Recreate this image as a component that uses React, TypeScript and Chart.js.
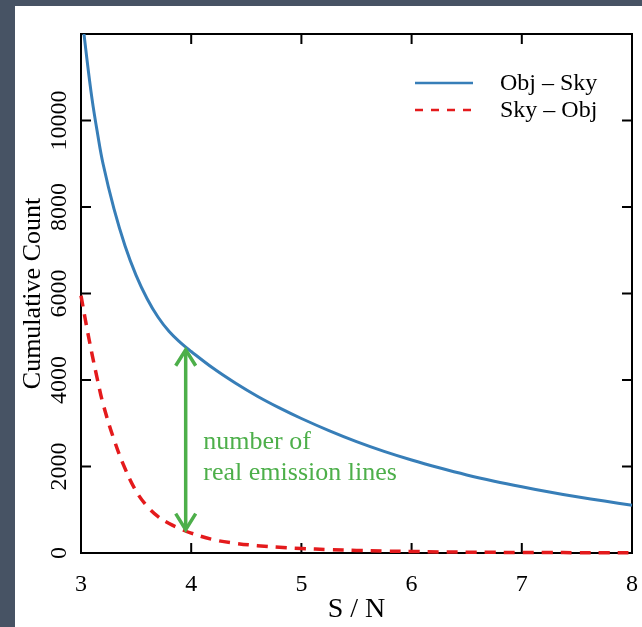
import { useEffect, useRef } from "react";
import { Chart, registerables } from "chart.js";

Chart.register(...registerables);

// Signal-to-noise thresholds and the cumulative counts above each one
const SN = [3.0, 3.05, 3.1, 3.15, 3.2, 3.3, 3.4, 3.5, 3.6, 3.7, 3.8, 3.9, 4.0, 4.2, 4.4, 4.6, 4.8, 5.0, 5.25, 5.5, 5.75, 6.0, 6.25, 6.5, 6.75, 7.0, 7.25, 7.5, 7.75, 8.0];
const OBJ_MINUS_SKY = [12600, 11500, 10500, 9700, 9000, 7950, 7100, 6420, 5880, 5450, 5120, 4870, 4660, 4270, 3930, 3625, 3355, 3110, 2830, 2575, 2350, 2150, 1970, 1805, 1660, 1530, 1410, 1300, 1200, 1105];
const SKY_MINUS_OBJ = [5950, 5250, 4600, 4000, 3450, 2620, 1950, 1430, 1080, 840, 680, 560, 460, 310, 225, 170, 132, 105, 80, 60, 45, 35, 25, 20, 15, 12, 10, 8, 6, 5];

const SERIES_LABELS = ["Obj \u2013 Sky", "Sky \u2013 Obj"];
const X_TICKS = [3, 4, 5, 6, 7, 8];
const Y_TICKS = [0, 2000, 4000, 6000, 8000, 10000];
const X_MIN = 3;
const X_MAX = 8;
const Y_MAX = 12000;

// Double-headed arrow marking the gap between the two curves
const ARROW_SN = 3.95;
const ARROW_TOP = 4700;
const ARROW_BOTTOM = 540;
const NOTE_LINES = ["number of", "real emission lines"];
const NOTE_SN = 4.11;
const NOTE_BASELINE = 2400;

const BLUE = "#377eb8";
const RED = "#e41a1c";
const GREEN = "#4daf4a";
const SERIF = "'Liberation Serif', 'Times New Roman', serif";

const framePlugin = {
  id: "frameTicks",
  beforeDatasetsDraw(chart: any) {
    const { ctx, chartArea: a, scales } = chart;
    const len = 10;
    ctx.save();
    ctx.strokeStyle = "#000";
    ctx.lineWidth = 2;
    ctx.strokeRect(a.left, a.top, a.right - a.left, a.bottom - a.top);
    ctx.beginPath();
    const xs = scales.x;
    for (const t of xs.ticks) {
      if (t.value <= xs.min || t.value >= xs.max) continue;
      const px = xs.getPixelForValue(t.value);
      ctx.moveTo(px, a.bottom);
      ctx.lineTo(px, a.bottom - len);
      ctx.moveTo(px, a.top);
      ctx.lineTo(px, a.top + len);
    }
    const ys = scales.y;
    for (const t of ys.ticks) {
      if (t.value <= ys.min || t.value >= ys.max) continue;
      const py = ys.getPixelForValue(t.value);
      ctx.moveTo(a.left, py);
      ctx.lineTo(a.left + len, py);
      ctx.moveTo(a.right, py);
      ctx.lineTo(a.right - len, py);
    }
    ctx.stroke();
    ctx.restore();
  },
};

const notePlugin = {
  id: "gapNote",
  afterDatasetsDraw(chart: any) {
    const { ctx, scales } = chart;
    const x = scales.x.getPixelForValue(ARROW_SN);
    const yTop = scales.y.getPixelForValue(ARROW_TOP);
    const yBot = scales.y.getPixelForValue(ARROW_BOTTOM);
    const hw = 10;
    const hl = 16;
    ctx.save();
    ctx.strokeStyle = GREEN;
    ctx.lineWidth = 3.5;
    ctx.lineCap = "butt";
    ctx.lineJoin = "miter";
    ctx.beginPath();
    ctx.moveTo(x, yTop + 1);
    ctx.lineTo(x, yBot - 1);
    ctx.stroke();
    ctx.beginPath();
    ctx.moveTo(x - hw, yTop + hl);
    ctx.lineTo(x, yTop);
    ctx.lineTo(x + hw, yTop + hl);
    ctx.moveTo(x - hw, yBot - hl);
    ctx.lineTo(x, yBot);
    ctx.lineTo(x + hw, yBot - hl);
    ctx.stroke();

    ctx.fillStyle = GREEN;
    ctx.font = `26px ${SERIF}`;
    ctx.textAlign = "left";
    ctx.textBaseline = "alphabetic";
    const tx = scales.x.getPixelForValue(NOTE_SN);
    const ty = scales.y.getPixelForValue(NOTE_BASELINE);
    NOTE_LINES.forEach((line, i) => ctx.fillText(line, tx, ty + i * 31));
    ctx.restore();
  },
};

const legendPlugin = {
  id: "insetLegend",
  afterDraw(chart: any) {
    const { ctx, chartArea: a } = chart;
    ctx.save();
    ctx.font = `24px ${SERIF}`;
    ctx.textAlign = "left";
    ctx.textBaseline = "middle";
    chart.data.datasets.forEach((ds: any, i: number) => {
      const y = a.top + 49 + i * 27;
      ctx.strokeStyle = ds.borderColor;
      ctx.lineWidth = 2.5;
      ctx.setLineDash(ds.borderDash && ds.borderDash.length ? [8, 8] : []);
      ctx.beginPath();
      ctx.moveTo(a.right - 217, y);
      ctx.lineTo(a.right - 159, y);
      ctx.stroke();
      ctx.setLineDash([]);
      ctx.fillStyle = "#000";
      ctx.fillText(ds.label, a.right - 132, y + 1);
    });
    ctx.restore();
  },
};

export default function App() {
  const canvasRef = useRef<HTMLCanvasElement | null>(null);

  useEffect(() => {
    document.body.style.margin = "0";
    const canvas = canvasRef.current;
    if (!canvas) return;
    const chart = new Chart(canvas, {
      type: "line",
      data: {
        datasets: [
          {
            label: SERIES_LABELS[0],
            data: SN.map((x, i) => ({ x, y: OBJ_MINUS_SKY[i] })),
            borderColor: BLUE,
            borderWidth: 3,
            pointRadius: 0,
            fill: false,
            tension: 0.4,
            clip: { left: 2, top: 0, right: 2, bottom: 4 },
          },
          {
            label: SERIES_LABELS[1],
            data: SN.map((x, i) => ({ x, y: SKY_MINUS_OBJ[i] })),
            borderColor: RED,
            borderWidth: 3.5,
            borderDash: [11, 8],
            pointRadius: 0,
            fill: false,
            tension: 0.4,
            clip: { left: 2, top: 0, right: 2, bottom: 4 },
          },
        ],
      },
      options: {
        responsive: false,
        maintainAspectRatio: false,
        devicePixelRatio: 1,
        animation: false,
        events: [],
        layout: { padding: { left: 0, top: 28, right: 10, bottom: 0 } },
        plugins: {
          legend: { display: false },
          tooltip: { enabled: false },
        },
        scales: {
          x: {
            type: "linear",
            position: "bottom",
            min: X_MIN,
            max: X_MAX,
            grid: { display: false, drawTicks: false },
            border: { display: false },
            ticks: {
              color: "#000",
              font: { family: SERIF, size: 24 },
              padding: 17,
              autoSkip: false,
              minRotation: 0,
              maxRotation: 0,
              callback: (v: any) => String(v),
            },
            title: {
              display: true,
              text: "S / N",
              color: "#000",
              font: { family: SERIF, size: 28 },
              padding: { top: 0, bottom: 1 },
            },
            afterBuildTicks: (s: any) => {
              s.ticks = X_TICKS.map((value) => ({ value }));
            },
            afterFit: (s: any) => {
              s.height = 74;
              s.paddingLeft = 0;
              s.paddingRight = 0;
            },
          },
          y: {
            type: "linear",
            position: "left",
            min: 0,
            max: Y_MAX,
            grid: { display: false, drawTicks: false },
            border: { display: false },
            ticks: {
              color: "#000",
              font: { family: SERIF, size: 24 },
              padding: -9,
              crossAlign: "center",
              autoSkip: false,
              minRotation: 90,
              maxRotation: 90,
              callback: (v: any) => String(v),
            },
            title: {
              display: true,
              text: "Cumulative Count",
              color: "#000",
              font: { family: SERIF, size: 26 },
              padding: { top: 3, bottom: 0 },
            },
            afterBuildTicks: (s: any) => {
              s.ticks = Y_TICKS.map((value) => ({ value }));
            },
            afterFit: (s: any) => {
              s.width = 66;
              s.paddingTop = 0;
              s.paddingBottom = 0;
            },
          },
        },
      } as any,
      plugins: [framePlugin, notePlugin, legendPlugin],
    });
    return () => chart.destroy();
  }, []);

  return (
    <div style={{ width: 642, height: 627, background: "#475364", position: "relative", overflow: "hidden" }}>
      <div style={{ position: "absolute", left: 15, top: 6, width: 627, height: 621, background: "#fff" }}>
        <canvas ref={canvasRef} width={627} height={621} style={{ display: "block" }} />
      </div>
    </div>
  );
}
